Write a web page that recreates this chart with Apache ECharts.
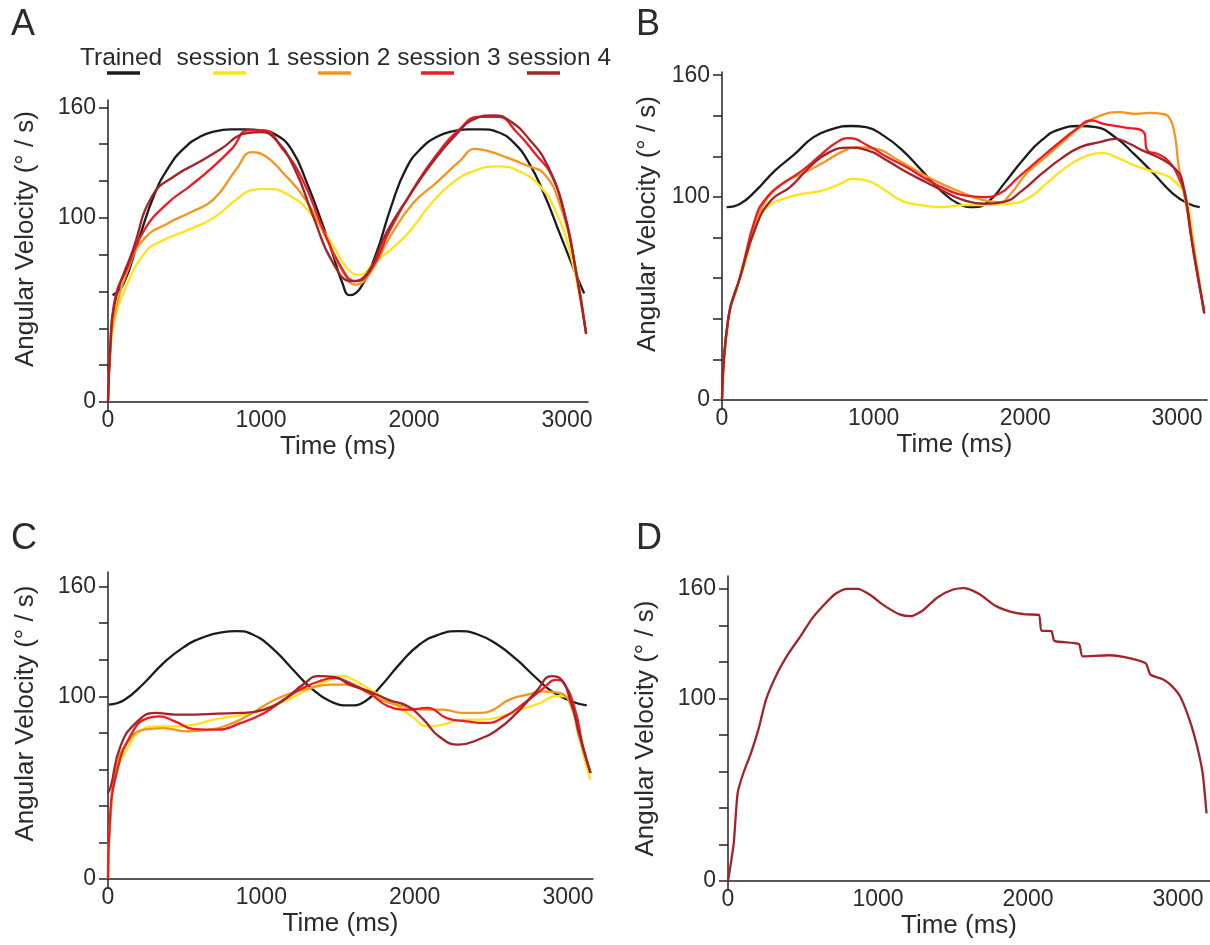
<!DOCTYPE html>
<html><head><meta charset="utf-8">
<script src="https://cdn.jsdelivr.net/npm/echarts@6/dist/echarts.min.js"></script>
<style>html,body{margin:0;padding:0;background:#fff}#c{width:1210px;height:945px}</style>
</head><body><div id="c"></div><script>
// ---------- DATA ([time ms, angular velocity °/s]) ----------
const seriesNames = ['Trained', 'session 1', 'session 2', 'session 3', 'session 4'];
const xTickLabels = [0, 1000, 2000, 3000];
const yTickLabels = [0, 100, 160];
const yMinorTicks = [0, 20, 40, 60, 80, 100, 120, 140, 160];
const panelLetters = ['A', 'B', 'C', 'D'];

const A_trained = [[30,58],[100,64],[200,88],[300,112],[400,128],[500,138],[600,144],[700,147],[800,148],[900,148],[1000,147.5],[1100,145],[1200,137],[1300,119],[1400,97],[1470,80],[1530,65],[1580,58],[1650,62],[1750,80],[1850,106],[1950,127],[2050,138],[2150,144],[2250,147],[2350,148],[2450,148],[2550,146.5],[2650,141],[2750,130],[2850,113],[2950,92],[3050,71],[3112,59]];
const A_s1 = [[0,0],[15,25],[40,43],[110,61],[240,81],[340,87],[540,94],[690,100],[840,110],[940,115],[1040,115.7],[1190,112],[1340,101],[1470,85],[1570,72],[1640,69],[1740,75.6],[1900,86.5],[2000,95.6],[2100,106.6],[2250,119],[2400,125.7],[2550,128],[2700,124.8],[2820,117.5],[2920,104.7],[3020,81],[3125,37]];
const A_s2 = [[0,0],[15,28],[40,46],[140,74],[240,89],[390,97],[540,103],[690,110],[840,126.5],[940,135.7],[1020,134],[1140,124.8],[1290,110],[1420,90],[1540,70],[1620,63.7],[1720,71],[1845,90],[1995,108],[2145,119],[2300,131],[2400,137.5],[2470,136.6],[2600,133],[2750,128],[2850,124],[2950,108],[3050,75.6],[3125,37]];
const A_s3 = [[0,0],[15,30],[40,53.7],[140,75.6],[240,93.8],[390,108],[540,117.5],[690,128],[815,138],[915,147.5],[1015,147.5],[1140,137.5],[1270,121],[1390,97],[1520,73.8],[1620,65.6],[1720,72],[1845,93.8],[1995,115.7],[2145,134],[2300,148.4],[2420,154.8],[2550,154.8],[2670,146.6],[2800,134],[2900,123],[3000,97],[3060,70],[3125,37]];
const A_s4 = [[0,0],[15,30],[40,52],[165,83],[290,112],[440,123],[590,130],[740,137.5],[890,145.7],[990,146.6],[1090,143],[1220,126.6],[1340,101],[1470,75.6],[1595,65.6],[1695,70],[1820,92],[1970,112],[2120,130],[2270,144.8],[2400,153.9],[2520,155.7],[2620,153],[2750,143],[2875,128],[2975,104.7],[3050,75],[3125,37]];

const B_trained = [[31,95],[120,96.7],[222,103],[349,113],[477,121],[604,129.5],[732,133.6],[850,135],[950,134.4],[1070,130],[1190,123],[1318,113],[1445,103],[1560,96.7],[1660,95],[1760,98],[1860,106.6],[1981,118],[2108,128],[2236,133.6],[2363,135],[2465,134.4],[2592,129.5],[2720,121],[2847,111.5],[2975,101.6],[3077,96.7],[3150,95]];
const B_s1 = [[0,0],[43,41],[82,52.5],[145,65.6],[222,85],[298,95],[400,99],[528,101.6],[655,103],[783,106.6],[859,109],[961,108],[1063,104],[1190,98],[1318,96],[1445,95],[1598,96],[1751,96],[1904,96.7],[2032,100],[2159,108],[2287,115.6],[2414,120.5],[2516,121.6],[2618,118.9],[2720,115.6],[2822,113],[2924,110.7],[3000,106.6],[3060,100],[3110,77],[3180,42.6]];
const B_s2 = [[0,0],[43,41],[94,54],[171,75],[247,92],[324,101.6],[426,108],[528,111.5],[655,116.4],[783,122],[885,124.6],[1012,123.8],[1165,118],[1318,111.5],[1445,106.6],[1573,102.5],[1700,99],[1828,97.5],[1904,101.6],[2006,111.5],[2134,119.7],[2261,128],[2389,136],[2491,140],[2618,141.8],[2720,141],[2822,141.5],[2900,141],[2950,139],[2985,131],[3010,116],[3045,102],[3090,84],[3180,42.6]];
const B_s3 = [[0,0],[43,41],[120,60.6],[222,90],[298,100],[400,106.6],[528,113],[655,121],[757,127],[834,129],[961,125.4],[1088,119.7],[1216,114.8],[1343,109],[1471,104],[1598,100.8],[1726,100],[1828,101.6],[1955,109.8],[2083,118],[2210,126],[2338,133.6],[2439,137.7],[2516,136],[2643,134.4],[2780,132],[2805,123],[2870,121.3],[2940,118],[3010,109.8],[3060,98.4],[3110,72],[3180,44]];
const B_s4 = [[0,0],[43,41],[120,60.6],[222,85],[324,98.4],[451,105],[579,114.8],[706,122],[834,124.3],[961,123],[1088,118],[1216,112.3],[1343,107.4],[1471,102.5],[1598,98.4],[1726,96.7],[1853,97.5],[1981,103.3],[2108,111.5],[2236,118.9],[2363,124.6],[2491,127],[2592,128.7],[2694,126],[2771,123],[2873,119.7],[2975,114.8],[3035,108],[3090,82],[3180,42.6]];

const C_trained = [[5,95.4],[106,98],[233,107],[360,118],[487,126.5],[613,132],[740,135],[841,135.6],[943,133.8],[1069,126.5],[1196,115.5],[1323,104.6],[1449,97.3],[1576,95],[1678,97.3],[1779,105.5],[1906,118],[2032,128.3],[2159,133.8],[2286,135.6],[2412,133.8],[2539,128.3],[2666,120],[2793,110],[2894,102.7],[3021,97.3],[3122,95]];
const C_s1 = [[0,0],[18,36],[56,58],[132,72.6],[208,80.8],[309,83.5],[436,83.5],[563,84.5],[689,87.2],[816,89],[943,90.9],[1069,94.5],[1196,99],[1323,104.6],[1449,109],[1525,111.3],[1601,109],[1728,102.7],[1855,96.3],[1982,89],[2083,83.5],[2184,84.5],[2311,87.2],[2438,87.2],[2565,89],[2691,92.7],[2818,96.3],[2919,100],[2970,100],[3046,89],[3097,69],[3147,54.3]];
const C_s2 = [[0,0],[18,36],[56,61.6],[132,75.3],[233,81.7],[360,82.6],[512,80.8],[664,81.7],[816,85.4],[943,90.9],[1069,97.3],[1196,101.8],[1323,104.6],[1449,106.4],[1551,106.4],[1678,102.7],[1804,97.3],[1931,94.5],[2058,92.7],[2184,92.7],[2311,90.9],[2438,90.9],[2514,92.7],[2615,98],[2742,101],[2843,102.7],[2945,101.8],[3021,94.5],[3071,78],[3147,58]];
const C_s3 = [[0,0],[10,28.7],[56,58],[157,80],[258,88],[334,89],[436,86.3],[563,82],[715,81.7],[867,85.4],[1019,90.9],[1145,98],[1272,104.6],[1399,108.8],[1475,110],[1576,107.3],[1703,101.8],[1830,94.5],[1956,92.7],[2083,93.6],[2210,88],[2336,86.3],[2463,85.4],[2590,89],[2716,96.3],[2843,104.6],[2919,109],[2970,107.3],[3046,92.7],[3097,72.6],[3147,58]];
const C_s4 = [[0,47],[18,50.6],[81,72.6],[182,85.4],[309,90.9],[436,90],[563,90],[715,90.5],[867,90.9],[1019,92.7],[1145,98],[1272,106.4],[1373,111],[1475,110.6],[1576,106.4],[1703,102.7],[1830,98],[1956,94.5],[2058,87.2],[2159,78],[2286,73.5],[2412,76.2],[2539,81.7],[2666,90.9],[2793,102.7],[2894,111],[2945,110],[3021,96.3],[3071,80],[3147,58]];

const D_s4 = [[0,0],[38,20.5],[64,48],[102,59],[153,70],[203,83],[254,99.4],[330,114],[407,125],[483,134],[559,143.5],[636,150.8],[712,157],[788,160],[864,160],[941,157],[1042,150.8],[1144,146],[1220,145],[1296,148],[1398,155.4],[1500,159.6],[1576,160.4],[1678,157],[1779,150.8],[1881,147.5],[1983,146],[2072,145.7],[2090,137],[2156,136.8],[2176,131.5],[2339,129.7],[2364,123],[2542,123.6],[2644,122.6],[2783,119.3],[2816,113],[2898,110.5],[2949,107.5],[3012,101.3],[3076,88.4],[3127,73.8],[3164,59],[3190,37]];

// ---------- STYLE ----------
const colors = ['#1c1c1c', '#ffe31a', '#f7941d', '#ec1c24', '#a3232b'];
const FONT = 'Liberation Sans, Arial, Helvetica, sans-serif';
const TXT = '#2b2b2b';

const panels = [
  { grid:{left:108, top:100, width:480, height:302}, xMax:3137, yMax:164, data:[A_trained,A_s1,A_s2,A_s3,A_s4], idx:[0,1,2,3,4], yGap:69, yPad:24 },
  { grid:{left:722, top:72, width:485, height:328}, xMax:3198, yMax:161.6, data:[B_trained,B_s1,B_s2,B_s3,B_s4], idx:[0,1,2,3,4], yGap:61, yPad:24 },
  { grid:{left:108, top:572, width:485, height:307}, xMax:3163, yMax:168, data:[C_trained,C_s1,C_s2,C_s3,C_s4], idx:[0,1,2,3,4], yGap:69, yPad:24 },
  { grid:{left:728, top:576, width:482, height:305}, xMax:3213, yMax:167, data:[D_s4], idx:[4], yGap:69, yPad:0 }
];

const axisLine = { show:true, onZero:false, lineStyle:{ color:'#222', width:1.5 } };
const grids = [], xAxes = [], yAxes = [], series = [];
panels.forEach((p, i) => {
  grids.push(p.grid);
  xAxes.push({
    type:'value', gridIndex:i, min:0, max:p.xMax,
    axisLine, splitLine:{show:false},
    axisTick:{ show:true, customValues:[0], length:9, lineStyle:{color:'#222', width:1.5} },
    axisLabel:{ customValues:xTickLabels, formatter:v => String(v), fontSize:23, color:TXT, fontFamily:FONT, margin:7 },
    name:'Time (ms)', nameLocation:'middle', nameGap:32,
    nameTextStyle:{ fontSize:26, color:TXT, fontFamily:FONT, padding:[0,20,0,0] }
  });
  yAxes.push({
    type:'value', gridIndex:i, min:0, max:p.yMax,
    axisLine, splitLine:{show:false},
    axisTick:{ show:true, customValues:yMinorTicks, length:9, lineStyle:{color:'#222', width:1.5} },
    axisLabel:{ customValues:yTickLabels, formatter:v => String(v), fontSize:23, color:TXT, fontFamily:FONT, margin:12 },
    name:'Angular Velocity (° / s)', nameLocation:'middle', nameGap:p.yGap,
    nameTextStyle:{ fontSize:26, color:TXT, fontFamily:FONT, padding:[0,0,0,p.yPad] }
  });
  p.data.forEach((d, k) => {
    const ci = p.idx[k];
    series.push({
      type:'line', name:seriesNames[ci], xAxisIndex:i, yAxisIndex:i, data:d,
      showSymbol:false, smooth:i === 3 ? 0.2 : 0.5,
      lineStyle:{ color:colors[ci], width:2.3 }, itemStyle:{ color:colors[ci] },
      z: ci === 0 ? 1 : 2 + ci, animation:false, silent:true
    });
  });
});

// legend (text above short coloured bars) and panel letters
const legendText = [80, 176.6, 286.9, 397.2, 507.5];
const legendBar = [107, 213, 318, 421, 527];
const graphic = [];
seriesNames.forEach((n, i) => {
  graphic.push({ type:'text', left:legendText[i], top:46, style:{ text:n, font:'24.5px ' + FONT, fill:TXT } });
  graphic.push({ type:'line', shape:{ x1:legendBar[i], y1:73, x2:legendBar[i] + 33, y2:73 }, style:{ stroke:colors[i], lineWidth:3.5 } });
});
const letterPos = [[11, 7], [636, 7], [11, 521], [636, 521]];
panelLetters.forEach((L, i) => {
  graphic.push({ type:'text', left:letterPos[i][0], top:letterPos[i][1], style:{ text:L, font:'36px ' + FONT, fill:TXT } });
});

const chart = echarts.init(document.getElementById('c'), null, { renderer:'canvas' });
chart.setOption({
  backgroundColor:'#ffffff', animation:false,
  grid:grids, xAxis:xAxes, yAxis:yAxes, series, graphic
});
</script></body></html>
